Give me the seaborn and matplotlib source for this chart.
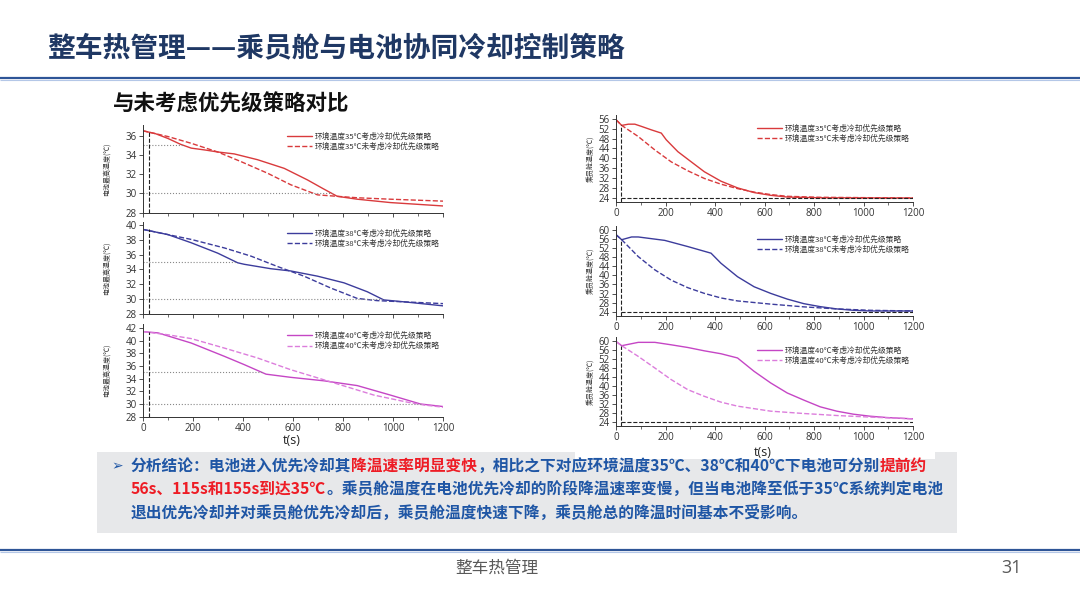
import numpy as np
import matplotlib
matplotlib.use('Agg')
import matplotlib.pyplot as plt
import seaborn as sns
from matplotlib.ticker import MultipleLocator

sns.set_style('ticks')
plt.rcParams['font.family'] = ['Noto Sans CJK SC', 'DejaVu Sans']
plt.rcParams['axes.unicode_minus'] = False

# ---- battery temperature (left column) ----
b35_t_on = [0, 50, 100, 150, 193, 250, 299, 365, 458, 565, 658, 720, 777, 857, 990, 1200]
b35_on = [36.5, 36.2, 35.7, 35.1, 34.7, 34.5, 34.3, 34.1, 33.5, 32.6, 31.4, 30.5, 29.7, 29.4, 29.05, 28.7]
b35_t_off = [0, 100, 193, 299, 392, 498, 591, 698, 777, 857, 990, 1200]
b35_off = [36.5, 35.9, 35.2, 34.3, 33.3, 32.1, 30.9, 29.85, 29.7, 29.55, 29.4, 29.2]

b38_t_on = [0, 100, 193, 299, 379, 405, 512, 591, 698, 804, 897, 963, 1056, 1200]
b38_on = [39.4, 38.7, 37.6, 36.2, 34.9, 34.7, 34.1, 33.8, 33.1, 32.2, 31.0, 29.9, 29.6, 29.1]
b38_t_off = [0, 193, 326, 432, 538, 644, 751, 857, 937, 1200]
b38_off = [39.4, 38.05, 36.9, 35.8, 34.4, 33.1, 31.5, 30.1, 29.8, 29.4]

b40_t_on = [0, 60, 193, 326, 405, 492, 591, 724, 857, 990, 1110, 1200]
b40_on = [41.4, 41.2, 39.6, 37.5, 36.2, 34.7, 34.2, 33.65, 32.9, 31.4, 30.0, 29.6]
b40_t_off = [0, 100, 193, 326, 458, 591, 658, 791, 924, 1056, 1123, 1200]
b40_off = [41.4, 40.9, 40.3, 38.8, 37.25, 35.4, 34.6, 33.0, 31.4, 30.3, 29.85, 29.5]

# ---- cabin temperature (right column) ----
c35_t_on = [0, 23, 50, 76, 103, 143, 183, 203, 250, 304, 357, 424, 491, 558, 625, 692, 825, 1200]
c35_on = [55.6, 53.3, 53.8, 53.8, 52.9, 51.5, 50.2, 47.5, 42.7, 38.6, 34.6, 30.8, 28.1, 26.2, 25.1, 24.4, 24.1, 24.0]
c35_t_off = [0, 23, 90, 157, 223, 290, 357, 424, 491, 558, 625, 692, 825, 1200]
c35_off = [55.6, 53.3, 48.8, 43.4, 38.6, 35.0, 31.9, 29.6, 27.8, 26.4, 25.4, 24.7, 24.3, 24.0]

c38_t_on = [0, 23, 63, 90, 197, 290, 384, 424, 491, 558, 625, 692, 759, 825, 892, 959, 1026, 1200]
c38_on = [57.8, 55.6, 56.8, 56.8, 55.3, 52.6, 49.7, 45.3, 39.4, 35.0, 32.1, 29.6, 27.6, 26.3, 25.3, 24.7, 24.4, 24.4]
c38_t_off = [0, 23, 90, 157, 223, 290, 357, 424, 491, 625, 759, 892, 1026, 1200]
c38_off = [57.8, 55.6, 48.2, 42.4, 37.9, 34.6, 32.1, 30.1, 28.8, 27.4, 26.2, 25.3, 24.7, 24.4]

c40_t_on = [0, 23, 90, 157, 223, 290, 357, 424, 491, 558, 625, 692, 759, 825, 892, 959, 1026, 1093, 1200]
c40_on = [60.0, 58.1, 59.6, 59.6, 58.5, 57.3, 55.8, 54.5, 52.6, 46.6, 41.4, 36.9, 33.7, 30.7, 28.75, 27.4, 26.5, 25.9, 25.3]
c40_t_off = [0, 23, 90, 157, 223, 290, 357, 424, 491, 625, 759, 892, 1026, 1200]
c40_off = [60.0, 58.1, 53.3, 48.1, 42.9, 38.4, 35.4, 32.8, 31.0, 28.75, 27.7, 26.8, 26.1, 25.3]

ambient = ['35', '38', '40']
colors = ['#d93a3c', '#3c3c9c', '#c546c5']
colors_off = ['#d93a3c', '#3c3c9c', '#dc7ddc']
switch_t = 22
battery_levels = [35, 30]
cabin_target = 24

battery = [(b35_t_on, b35_on, b35_t_off, b35_off),
           (b38_t_on, b38_on, b38_t_off, b38_off),
           (b40_t_on, b40_on, b40_t_off, b40_off)]
cabin = [(c35_t_on, c35_on, c35_t_off, c35_off),
         (c38_t_on, c38_on, c38_t_off, c38_off),
         (c40_t_on, c40_on, c40_t_off, c40_off)]

W, H = 1080, 607
fig = plt.figure(figsize=(W / 100, H / 100), dpi=100)
fig.patch.set_facecolor('white')


def px_axes(left, top, right, bottom):
    return fig.add_axes([left / W, 1 - bottom / H, (right - left) / W, (bottom - top) / H])


tick_font = {'family': ['Open Sans', 'Noto Sans CJK SC'], 'size': 7}


def style_axis(ax, ylim, ystep, show_xlabels):
    ax.set_xlim(0, 1200)
    ax.set_ylim(*ylim)
    ax.xaxis.set_major_locator(MultipleLocator(200))
    ax.xaxis.set_minor_locator(MultipleLocator(100))
    ax.yaxis.set_major_locator(MultipleLocator(ystep))
    ax.tick_params(axis='both', which='major', direction='out', length=3, width=0.6,
                   colors='#333333', pad=1.5)
    ax.tick_params(axis='x', which='minor', direction='out', length=2, width=0.5, colors='#333333')
    for lab in ax.get_xticklabels() + ax.get_yticklabels():
        lab.set_fontfamily(tick_font['family'])
        lab.set_fontsize(tick_font['size'])
    if not show_xlabels:
        ax.tick_params(axis='x', labelbottom=False)
    for s in ['top', 'right']:
        ax.spines[s].set_visible(False)
    for s in ['left', 'bottom']:
        ax.spines[s].set_linewidth(0.7)
        ax.spines[s].set_color('#333333')
    ax.set_xlabel('')
    ax.set_ylabel('')
    ax.set_facecolor('white')


def draw_lines(ax, data, i):
    t_on, y_on, t_off, y_off = data
    sns.lineplot(x=t_on, y=y_on, ax=ax, color=colors[i], linewidth=1.0,
                 label='环境温度' + ambient[i] + '℃考虑冷却优先级策略')
    sns.lineplot(x=t_off, y=y_off, ax=ax, color=colors_off[i], linewidth=1.0, linestyle='--',
                 label='环境温度' + ambient[i] + '℃未考虑冷却优先级策略')


def add_legend(ax, anchor):
    leg = ax.legend(loc='upper right', bbox_to_anchor=anchor, frameon=False,
                    prop={'family': ['Noto Sans CJK SC', 'DejaVu Sans'], 'size': 5.6},
                    handlelength=3.2, handletextpad=0.4, labelspacing=0.25, borderaxespad=0)
    for t in leg.get_texts():
        t.set_color('#333333')


# left column: battery
left_boxes = [(143, 125, 443, 212.7), (143, 222, 443, 314), (143, 324, 443, 416.7)]
left_ylims = [(28, 37.1), (28, 40.4), (28, 42.6)]
for i, data in enumerate(battery):
    ax = px_axes(*left_boxes[i])
    draw_lines(ax, data, i)
    t_on, y_on = data[0], data[1]
    for lv in battery_levels:
        t_cross = np.interp(lv, y_on[::-1], t_on[::-1])
        ax.hlines(lv, 0, t_cross, colors='#888888', linestyles=':', linewidth=0.8)
    ax.vlines(switch_t, left_ylims[i][0], y_on[0], colors='#222222', linestyles='--', linewidth=0.8)
    style_axis(ax, left_ylims[i], 2, i == 2)
    add_legend(ax, (1.0, 0.95))
    ax.set_ylabel('电池最高温度(℃)', fontsize=5, color='#333333', labelpad=11)

# right column: cabin
right_boxes = [(616, 115, 913, 202), (616, 226, 913, 316), (616, 337, 913, 426)]
right_ylims = [(22.4, 57.5), (22.2, 61.6), (22.1, 62)]
for i, data in enumerate(cabin):
    ax = px_axes(*right_boxes[i])
    draw_lines(ax, data, i)
    t_on, y_on = data[0], data[1]
    y_sw = np.interp(switch_t, t_on, y_on)
    ax.vlines(switch_t, right_ylims[i][0], y_sw, colors='#222222', linestyles='--', linewidth=0.8)
    ax.hlines(cabin_target, switch_t, 1200, colors='#222222', linestyles='--', linewidth=0.8)
    style_axis(ax, right_ylims[i], 4, True)
    add_legend(ax, (1.0, 0.93))
    ax.set_ylabel('乘员舱温度(℃)', fontsize=5, color='#333333', labelpad=3)

fig.text(292 / W, 1 - 441 / H, 't(s)', ha='center', va='center', fontsize=9,
         family=['Open Sans', 'DejaVu Sans'], color='#222222')
fig.text(763 / W, 1 - 452 / H, 't(s)', ha='center', va='center', fontsize=9,
         family=['Open Sans', 'DejaVu Sans'], color='#222222', zorder=5)

# ---- slide decoration ----
deco = fig.add_axes([0, 0, 1, 1], zorder=-1)
deco.set_xlim(0, W)
deco.set_ylim(H, 0)
deco.axis('off')
deco.hlines(78, 0, W, colors='#2e5597', linewidth=1.6)
deco.hlines(80, 0, W, colors='#b4c7e7', linewidth=0.8)
deco.hlines(550, 0, W, colors='#2e5597', linewidth=1.6)
deco.hlines(552, 0, W, colors='#b4c7e7', linewidth=0.8)
deco.add_patch(plt.Rectangle((97, 452), 860, 81, facecolor='#e7e8ea', edgecolor='none'))
deco.add_patch(plt.Rectangle((575, 445), 360, 14, facecolor='white', edgecolor='none'))

fig.text(47 / W, 1 - 48 / H, '整车热管理——乘员舱与电池协同冷却控制策略', fontsize=20,
         fontweight='bold', color='#1f3864', va='center')
fig.text(113 / W, 1 - 104 / H, '与未考虑优先级策略对比', fontsize=15.5,
         fontweight='bold', color='#111111', va='center')

fig.text(497 / W, 1 - 568 / H, '整车热管理', fontsize=12, color='#595959', ha='center', va='center')
fig.text(1012 / W, 1 - 568 / H, '31', fontsize=13, color='#595959', ha='center', va='center',
         family=['Open Sans', 'DejaVu Sans'])

blue = '#1f56a5'
red = '#ee1c25'
lines = [
    [('分析结论：电池进入优先冷却其', blue), ('降温速率明显变快', red),
     ('，相比之下对应环境温度35℃、38℃和40℃下电池可分别', blue), ('提前约', red)],
    [('56s、115s和155s到达35℃', red), ('。乘员舱温度在电池优先冷却的阶段降温速率变慢，但当电池降至低于35℃系统判定电池', blue)],
    [('退出优先冷却并对乘员舱优先冷却后，乘员舱温度快速下降，乘员舱总的降温时间基本不受影响。', blue)],
]
line_y = [466, 489, 513]
renderer = fig.canvas.get_renderer()
for parts, yy in zip(lines, line_y):
    x = 131 / W
    for s, c in parts:
        t = fig.text(x, 1 - yy / H, s, color=c, fontsize=11.3, fontweight='bold', va='center')
        bb = t.get_window_extent(renderer=renderer)
        x += bb.width / fig.bbox.width
fig.text(111 / W, 1 - 466 / H, '➢', color=blue, fontsize=10, va='center', family=['DejaVu Sans'])

fig.savefig('out.png', dpi=100)
